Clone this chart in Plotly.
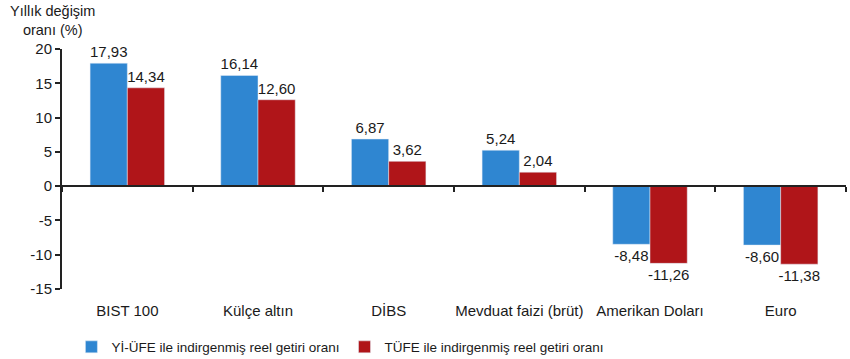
import plotly.graph_objects as go

categories = ["BIST 100", "Külçe altın", "DİBS", "Mevduat faizi (brüt)", "Amerikan Doları", "Euro"]
yiufe = [17.93, 16.14, 6.87, 5.24, -8.48, -8.60]
tufe = [14.34, 12.60, 3.62, 2.04, -11.26, -11.38]
series_names = ["Yİ-ÜFE ile indirgenmiş reel getiri oranı", "TÜFE ile indirgenmiş reel getiri oranı"]
y_ticks = [-15, -10, -5, 0, 5, 10, 15, 20]
y_ticktext = ["-15", "-10", "-5", "0", "5", "10", "15", "20"]

BLUE = "#2F86D1"
RED = "#B01519"
TXT = "#1a1a1a"
FONT = "Liberation Sans, Arial, sans-serif"

def fmt(v):
    return f"{v:.2f}".replace(".", ",")

fig = go.Figure()
fig.add_trace(go.Bar(x=categories, y=yiufe, name=series_names[0], marker_color=BLUE,
                     text=[fmt(v) for v in yiufe], textposition="outside",
                     textfont=dict(size=15, color=TXT), cliponaxis=False, xaxis="x", yaxis="y"))
fig.add_trace(go.Bar(x=categories, y=tufe, name=series_names[1], marker_color=RED,
                     text=[fmt(v) for v in tufe], textposition="outside",
                     textfont=dict(size=15, color=TXT), cliponaxis=False, xaxis="x", yaxis="y"))
# helper trace for bottom category labels
fig.add_trace(go.Scatter(x=categories, y=[0]*len(categories), mode="none", showlegend=False,
                         hoverinfo="skip", xaxis="x2", yaxis="y"))

ymin, ymax = y_ticks[0], y_ticks[-1]
zero_pos = (0 - ymin) / (ymax - ymin)

fig.update_layout(
    width=850, height=359,
    margin=dict(l=62, r=4, t=49, b=70, autoexpand=False),
    paper_bgcolor="white", plot_bgcolor="white",
    font=dict(family=FONT, size=15, color=TXT),
    barmode="group", bargap=0.43, bargroupgap=0,
    uniformtext=dict(minsize=15, mode="show"),
    xaxis=dict(anchor="free", position=zero_pos, showline=True, linecolor="#222", linewidth=2,
               ticks="outside", tickson="boundaries", ticklen=5, tickcolor="#222", tickwidth=1.5,
               showticklabels=False, showgrid=False, zeroline=False, automargin=False),
    xaxis2=dict(overlaying="x", matches="x", anchor="y", side="bottom", showline=False,
                showgrid=False, zeroline=False, ticks="outside", ticklen=8, automargin=False,
                tickcolor="rgba(0,0,0,0)", tickfont=dict(size=15, color=TXT)),
    yaxis=dict(range=[ymin, ymax], tickvals=y_ticks, ticktext=y_ticktext, showline=True,
               linecolor="#222", linewidth=2, automargin=False,
               ticks="outside", ticklen=5, tickcolor="#222", tickwidth=1.5,
               showgrid=False, zeroline=False, tickfont=dict(size=15, color=TXT)),
    legend=dict(orientation="h", x=0.012, xanchor="left", y=-0.242, yanchor="middle",
                font=dict(size=13.5, color=TXT), itemwidth=30, traceorder="normal"),
    showlegend=True,
)
fig.add_annotation(text="Yıllık değişim<br>oranı (%)", xref="paper", yref="paper",
                   x=(52 - 62) / 784, y=1 + (49 - 21) / 240, xanchor="center", yanchor="middle",
                   showarrow=False, align="center", font=dict(size=14.5, color=TXT))

fig.write_html("out.html")
